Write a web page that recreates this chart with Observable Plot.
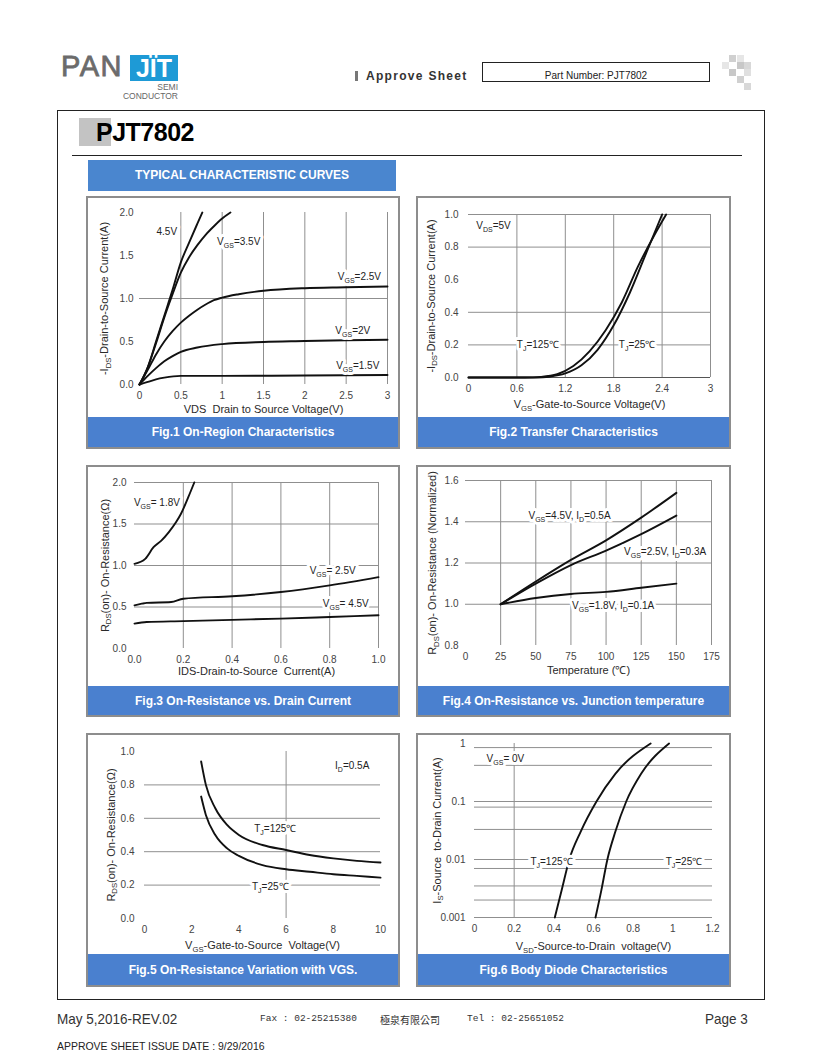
<!DOCTYPE html>
<html><head><meta charset="utf-8">
<script src="https://cdn.jsdelivr.net/npm/d3@7"></script>
<script src="https://cdn.jsdelivr.net/npm/@observablehq/plot@0.6"></script>
<style>
body{margin:0;background:#fff;font-family:"Liberation Sans",Arial,sans-serif;}
#page{position:relative;width:820px;height:1061px;overflow:hidden;background:#fff;}
.a{position:absolute;white-space:nowrap;}
.panel{position:absolute;border:2px solid #8d8d8d;box-sizing:border-box;background:#fff;}
.panel svg{position:absolute;left:0;top:0;}
.cap{position:absolute;left:0;right:0;top:219px;bottom:0;background:#4a80cf;color:#fff;font-weight:bold;font-size:12px;display:flex;align-items:center;justify-content:center;}
.narrow{transform:scaleX(0.9);transform-origin:0 0;}
</style></head><body><div id="page"></div>
<script>
// ---------- data ----------
// Fig.1 On-Region: [VDS (V), -IDS (A)]
const fig1Vgs45 = [[0,0],[0.1,0.2],[0.2,0.5],[0.3,0.8],[0.4,1.1],[0.5,1.42],[0.6,1.65],[0.7,1.87],[0.76,2.0]];
const fig1Vgs35 = [[0,0],[0.1,0.2],[0.2,0.48],[0.3,0.78],[0.4,1.05],[0.5,1.3],[0.6,1.48],[0.7,1.62],[0.8,1.74],[0.9,1.84],[1.0,1.93],[1.1,2.0]];
const fig1Vgs25 = [[0,0],[0.1,0.17],[0.2,0.35],[0.3,0.5],[0.4,0.62],[0.5,0.72],[0.6,0.8],[0.7,0.87],[0.8,0.93],[0.9,0.98],[1.0,1.01],[1.2,1.05],[1.5,1.09],[2,1.12],[2.5,1.13],[3,1.14]];
const fig1Vgs20 = [[0,0],[0.1,0.1],[0.2,0.19],[0.3,0.27],[0.4,0.33],[0.5,0.38],[0.7,0.43],[1,0.47],[1.5,0.495],[2,0.505],[2.5,0.515],[3,0.52]];
const fig1Vgs15 = [[0,0],[0.1,0.03],[0.2,0.06],[0.3,0.08],[0.5,0.1],[1,0.1],[2,0.105],[3,0.11]];
const fig1Labels = [["4.5V",0.33,1.77],["V{GS}=3.5V",1.2,1.66],["V{GS}=2.5V",2.66,1.25],["V{GS}=2V",2.58,0.63],["V{GS}=1.5V",2.64,0.22]];
const fig1XTicks = [0,0.5,1,1.5,2,2.5,3];
const fig1YTicks = [0,0.5,1,1.5,2];
const fig1GridX = [0.5,1,1.5,2,2.5,3];
const fig1GridY = [1];

// Fig.2 Transfer: [VGS (V), -IDS (A)]
const fig2Tj125 = [[0,0],[0.7,0],[0.9,0.004],[1.1,0.02],[1.3,0.07],[1.5,0.16],[1.7,0.29],[1.9,0.46],[2.1,0.68],[2.3,0.87],[2.45,1.0]];
const fig2Tj25 = [[0,0],[0.85,0],[1.0,0.005],[1.2,0.025],[1.4,0.075],[1.6,0.17],[1.8,0.32],[2.0,0.52],[2.2,0.76],[2.4,1.0]];
const fig2Labels = [["V{DS}=5V",0.31,0.93],["T{J}=125℃",0.86,0.2],["T{J}=25℃",2.09,0.2]];
const fig2XTicks = [0,0.6,1.2,1.8,2.4,3];
const fig2YTicks = [0,0.2,0.4,0.6,0.8,1.0];
const fig2GridX = [0.6,1.2,1.8,2.4,3];
const fig2GridY = [0.2,0.4,0.8,1.0];

// Fig.3 On-Resistance vs Drain Current: [IDS (A), RDS(on) (Ω)]
const fig3Vgs18 = [[0,1.02],[0.044,1.08],[0.078,1.22],[0.11,1.3],[0.14,1.4],[0.17,1.52],[0.19,1.62],[0.22,1.82],[0.245,2.0]];
const fig3Vgs25 = [[0,0.52],[0.03,0.54],[0.05,0.55],[0.15,0.56],[0.2,0.6],[0.4,0.63],[0.6,0.68],[0.8,0.76],[1.0,0.86]];
const fig3Vgs45 = [[0,0.3],[0.05,0.32],[0.2,0.33],[0.4,0.345],[0.6,0.36],[0.8,0.38],[1.0,0.4]];
const fig3Labels = [["V{GS}= 1.8V",0.092,1.75],["V{GS}= 2.5V",0.812,0.94],["V{GS}= 4.5V",0.866,0.54]];
const fig3XTicks = [0,0.2,0.4,0.6,0.8,1.0];
const fig3YTicks = [0,0.5,1,1.5,2];
const fig3GridX = [0.2,0.4,0.6,0.8,1.0];
const fig3GridY = [0.5,1,1.5,2];

// Fig.4 On-Resistance vs Temperature: [Tj (°C), normalized RDS(on)]
const fig4Vgs45 = [[25,1],[50,1.11],[75,1.215],[100,1.31],[125,1.42],[150,1.54]];
const fig4Vgs25 = [[25,1],[50,1.1],[75,1.19],[100,1.26],[125,1.34],[150,1.43]];
const fig4Vgs18 = [[25,1],[50,1.03],[75,1.05],[100,1.06],[125,1.08],[150,1.1]];
const fig4Labels = [["V{GS}=4.5V, I{D}=0.5A",74,1.427],["V{GS}=2.5V, I{D}=0.3A",142,1.256],["V{GS}=1.8V, I{D}=0.1A",105,0.994]];
const fig4XTicks = [0,25,50,75,100,125,150,175];
const fig4YTicks = [0.8,1.0,1.2,1.4,1.6];
const fig4GridX = [25,50,75,100,125,150,175];
const fig4GridY = [1.0,1.2,1.4,1.6];

// Fig.5 On-Resistance vs VGS: [VGS (V), RDS(on) (Ω)]
const fig5Tj125 = [[2.4,0.94],[2.6,0.8],[3,0.66],[3.5,0.56],[4,0.5],[5,0.44],[6,0.41],[7,0.38],[8,0.36],[9,0.345],[10,0.335]];
const fig5Tj25 = [[2.4,0.73],[2.6,0.62],[3,0.5],[3.5,0.42],[4,0.375],[5,0.32],[6,0.295],[7,0.28],[8,0.265],[9,0.255],[10,0.245]];
const fig5Labels = [["I{D}=0.5A",8.8,0.916],["T{J}=125℃",5.54,0.54],["T{J}=25℃",5.33,0.19]];
const fig5XTicks = [0,2,4,6,8,10];
const fig5YTicks = [0,0.2,0.4,0.6,0.8,1.0];
const fig5GridX = [6];
const fig5GridY = [0.2,0.4,0.6,0.8];

// Fig.6 Body Diode: [VSD (V), IS (A)]
const fig6Tj125 = [[0.405,0.001],[0.44,0.003],[0.478,0.01],[0.535,0.03],[0.615,0.1],[0.71,0.3],[0.888,1]];
const fig6Tj25 = [[0.61,0.001],[0.64,0.003],[0.67,0.01],[0.71,0.03],[0.765,0.1],[0.84,0.3],[0.981,1]];
const fig6Labels = [["V{GS}= 0V",0.156,0.55],["T{J}=125℃",0.388,0.0091],["T{J}=25℃",1.056,0.0091]];
const fig6XTicks = [0,0.2,0.4,0.6,0.8,1,1.2];
const fig6YTicks = [0.001,0.01,0.1,1];
const fig6GridX = [0.2];
const fig6GridY = [0.001,0.002,0.0035,0.007,0.01,0.033,0.08,0.1,0.42,0.85];

const captions = ["Fig.1 On-Region Characteristics","Fig.2 Transfer Characteristics","Fig.3 On-Resistance vs. Drain Current","Fig.4 On-Resistance vs. Junction temperature","Fig.5 On-Resistance Variation with VGS.","Fig.6 Body Diode Characteristics"];

// ---------- helpers ----------
const NS = "http://www.w3.org/2000/svg";
const page = document.getElementById("page");
function el(html){const t=document.createElement("template");t.innerHTML=html.trim();const n=t.content.firstChild;page.appendChild(n);return n;}
function rows(series){return series.flatMap(([name,pts])=>pts.map(([x,y])=>({x,y,s:name})));}
function lab(arr){return arr.map(([t,x,y])=>({t,x,y}));}
function subs(svg){
  svg.querySelectorAll("text").forEach(t=>{
    const targets = t.querySelector("tspan") ? [...t.querySelectorAll("tspan")] : [t];
    targets.forEach(e=>{
      const s=e.textContent; if(!s.includes("{")) return;
      e.textContent="";
      let low=false;
      s.split(/(\{[^}]*\})/).forEach(p=>{
        if(!p) return;
        const ts=document.createElementNS(NS,"tspan");
        if(p[0]==="{"){ts.textContent=p.slice(1,-1);ts.setAttribute("font-size","0.7em");if(!low){ts.setAttribute("dy","3");low=true;}}
        else{ts.textContent=p;if(low){ts.setAttribute("dy","-3");low=false;}}
        e.appendChild(ts);
      });
    });
  });
}
const f1 = d3.format(".1f");

function chart(c){
  const box = el(`<div class="panel" style="left:${c.left}px;top:${c.top}px;width:${c.w+4}px;height:${c.h}px"></div>`);
  const marks=[];
  marks.push(Plot.ruleX(c.gridX,{stroke:"#8f8f8f",strokeWidth:1}));
  marks.push(Plot.ruleY(c.gridY,{stroke:"#8f8f8f",strokeWidth:1}));
  if(c.base) marks.push(Plot.ruleY(c.base,{stroke:"#555",strokeWidth:1}));
  marks.push(Plot.line(c.rows,{x:"x",y:"y",z:"s",stroke:"#111",strokeWidth:1.9,curve:"monotone-x"}));
  marks.push(Plot.text(c.labels,{x:"x",y:"y",text:"t",fontSize:10,fill:"#fff",stroke:"#fff",strokeWidth:6}));
  marks.push(Plot.text(c.labels,{x:"x",y:"y",text:"t",fontSize:10,fill:"#222"}));
  marks.push(Plot.axisX({ticks:c.xTicks,tickFormat:c.xFmt,tickSize:0,tickPadding:7,label:c.xTitle,labelAnchor:"center",labelOffset:c.xOff,labelArrow:"none"}));
  marks.push(Plot.axisY({ticks:c.yTicks,tickFormat:c.yFmt,tickSize:0,tickPadding:c.yPad,label:c.yTitle,labelAnchor:"center",labelOffset:c.yOff,labelArrow:"none"}));
  const svg = Plot.plot({
    width:c.w, height:219,
    marginLeft:c.m[0], marginRight:c.m[1], marginTop:c.m[2], marginBottom:c.m[3],
    x:{domain:c.xDomain}, y:{type:c.yType||"linear", domain:c.yDomain},
    style:{fontFamily:"'Liberation Sans', Arial, sans-serif",fontSize:"10px",color:"#444",background:"#fff",overflow:"visible"},
    marks
  });
  subs(svg);
  svg.querySelectorAll('[aria-label="x-axis label"],[aria-label="y-axis label"]').forEach(g=>{g.setAttribute("font-size","11");g.setAttribute("fill","#2a2a2a");});
  box.appendChild(svg);
  const cap=document.createElement("div");cap.className="cap";cap.textContent=c.caption;box.appendChild(cap);
}

// ---------- page furniture ----------
el(`<div class="a" style="left:61px;top:51px;font-size:29px;color:#6b6b6b;letter-spacing:1.5px;line-height:31px;-webkit-text-stroke:0.8px #6b6b6b">PAN</div>`);
el(`<div class="a" style="left:130px;top:55px;width:48px;height:26px;background:#1e9ad6;color:#fff;font-size:25px;font-weight:bold;line-height:27px;text-align:center">JÏT</div>`);
el(`<div class="a" style="left:110px;top:83px;width:68px;text-align:right;font-size:8.5px;color:#666;line-height:9px">SEMI<br>CONDUCTOR</div>`);
el(`<div class="a" style="left:355px;top:71px;width:3px;height:10px;background:#777"></div>`);
el(`<div class="a" style="left:366px;top:69px;font-size:12px;font-weight:bold;color:#333;letter-spacing:1.3px">Approve Sheet</div>`);
el(`<div class="a" style="left:482px;top:62px;width:228px;height:20px;border:1px solid #222;box-sizing:border-box;font-size:10px;color:#222;text-align:center;line-height:25px">Part Number: PJT7802</div>`);
[[729,55,"#d0d0d0"],[737,55,"#e6e6e6"],[722,62,"#e6e6e6"],[737,62,"#c8c8c8"],[744,62,"#d8d8d8"],[729,69,"#c8c8c8"],[744,69,"#e0e0e0"],[737,76,"#d0d0d0"],[744,83,"#d8d8d8"]]
  .forEach(([x,y,c])=>el(`<div class="a" style="left:${x}px;top:${y}px;width:7px;height:7px;background:${c}"></div>`));
el(`<div class="a" style="left:57px;top:110px;width:708px;height:890px;border:1px solid #222;box-sizing:border-box"></div>`);
el(`<div class="a" style="left:79px;top:118px;width:32px;height:28px;background:#c3c3c3"></div>`);
el(`<div class="a" style="left:96px;top:117px;font-size:25px;font-weight:bold;color:#000;letter-spacing:-0.5px;line-height:30px">PJT7802</div>`);
el(`<div class="a" style="left:72px;top:155px;width:670px;height:1px;background:#222"></div>`);
el(`<div class="a" style="left:88px;top:160px;width:308px;height:31px;background:#4a86cf;color:#fff;font-weight:bold;font-size:12px;line-height:31px;text-align:center">TYPICAL CHARACTERISTIC CURVES</div>`);
el(`<div class="a narrow" style="left:57px;top:1010px;font-size:15px;color:#333">May 5,2016-REV.02</div>`);
el(`<div class="a" style="left:260px;top:1013px;font-size:9.5px;color:#333;font-family:'Liberation Mono',monospace">Fax : 02-25215380</div>`);
el(`<div class="a" style="left:380px;top:1012px;font-size:10px;color:#333;font-family:'Noto Sans CJK TC',sans-serif">極泉有限公司</div>`);
el(`<div class="a" style="left:467px;top:1013px;font-size:9.5px;color:#333;font-family:'Liberation Mono',monospace">Tel : 02-25651052</div>`);
el(`<div class="a narrow" style="left:705px;top:1010px;font-size:15px;color:#333">Page 3</div>`);
el(`<div class="a" style="left:57px;top:1040px;font-size:11px;color:#222;transform:scaleX(0.95);transform-origin:0 0">APPROVE SHEET ISSUE DATE : 9/29/2016</div>`);

// ---------- the six charts ----------
chart({left:86,top:196,w:310,h:253,m:[51,11,14,33],xDomain:[0,3],yDomain:[0,2],
  rows:rows([["4.5",fig1Vgs45],["3.5",fig1Vgs35],["2.5",fig1Vgs25],["2",fig1Vgs20],["1.5",fig1Vgs15]]),
  labels:lab(fig1Labels),gridX:fig1GridX,gridY:fig1GridY,xTicks:fig1XTicks,yTicks:fig1YTicks,xFmt:d=>String(d),yFmt:f1,
  xTitle:"VDS  Drain to Source Voltage(V)",yTitle:"-I{DS}-Drain-to-Source Current(A)",xOff:28.5,yOff:39.5,yPad:6,caption:captions[0]});
chart({left:416,top:196,w:311,h:253,m:[50,19,16,40],xDomain:[0,3],yDomain:[0,1],
  rows:rows([["125",fig2Tj125],["25",fig2Tj25]]),base:[0],
  labels:lab(fig2Labels),gridX:fig2GridX,gridY:fig2GridY,xTicks:fig2XTicks,yTicks:fig2YTicks,xFmt:d=>String(d),yFmt:f1,
  xTitle:"V{GS}-Gate-to-Source Voltage(V)",yTitle:"-I{DS}-Drain-to-Source Current(A)",xOff:30.5,yOff:41.8,yPad:10,caption:captions[1]});
chart({left:86,top:465,w:310,h:252,m:[46,20,15,38],xDomain:[0,1],yDomain:[0,2],
  rows:rows([["1.8",fig3Vgs18],["2.5",fig3Vgs25],["4.5",fig3Vgs45]]),
  labels:lab(fig3Labels),gridX:fig3GridX,gridY:fig3GridY,xTicks:fig3XTicks,yTicks:fig3YTicks,xFmt:f1,yFmt:f1,
  xTitle:"IDS-Drain-to-Source  Current(A)",yTitle:"R{DS}(on)- On-Resistance(Ω)",xOff:26.5,yOff:33.8,yPad:8,caption:captions[2]});
chart({left:416,top:465,w:311,h:252,m:[47,18,13,41],xDomain:[0,175],yDomain:[0.8,1.6],
  rows:rows([["4.5",fig4Vgs45],["2.5",fig4Vgs25],["1.8",fig4Vgs18]]),
  labels:lab(fig4Labels),gridX:fig4GridX,gridY:fig4GridY,xTicks:fig4XTicks,yTicks:fig4YTicks,xFmt:d=>String(d),yFmt:f1,
  xTitle:"Temperature (℃)",yTitle:"R{DS}(on)- On-Resistance (Normalized)",xOff:28.5,yOff:37.2,yPad:7,caption:captions[3]});
chart({left:86,top:733,w:310,h:254,m:[56,18,16,36],xDomain:[0,10],yDomain:[0,1],
  rows:rows([["125",fig5Tj125],["25",fig5Tj25]]),
  labels:lab(fig5Labels),gridX:fig5GridX,gridY:fig5GridY,xTicks:fig5XTicks,yTicks:fig5YTicks,xFmt:d=>String(d),yFmt:f1,
  xTitle:"V{GS}-Gate-to-Source  Voltage(V)",yTitle:"R{DS}(on)- On-Resistance(Ω)",xOff:30.5,yOff:37.8,yPad:10,caption:captions[4]});
chart({left:416,top:733,w:311,h:254,m:[56,17,8,37],xDomain:[0,1.2],yDomain:[0.001,1],yType:"log",
  rows:rows([["125",fig6Tj125],["25",fig6Tj25]]),
  labels:lab(fig6Labels),gridX:fig6GridX,gridY:fig6GridY,xTicks:fig6XTicks,yTicks:fig6YTicks,xFmt:d=>String(d),yFmt:d=>String(d),
  xTitle:"V{SD}-Source-to-Drain  voltage(V)",yTitle:"I{S}-Source  to-Drain Current(A)",xOff:32.5,yOff:41.8,yPad:9,caption:captions[5]});
</script></body></html>
